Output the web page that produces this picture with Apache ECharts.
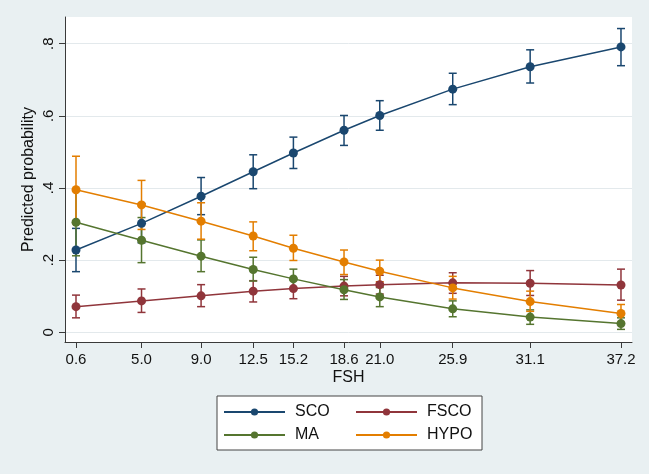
<!DOCTYPE html>
<html><head><meta charset="utf-8">
<script src="https://cdn.jsdelivr.net/npm/echarts@6/dist/echarts.min.js"></script>
<style>html,body{margin:0;padding:0;background:#ffffff;}#c{width:649px;height:474px;}</style>
</head><body><div id="c"></div>
<script>
var fsh = [0.6, 5.0, 9.0, 12.5, 15.2, 18.6, 21.0, 25.9, 31.1, 37.2];
var yTicks = [0, 0.2, 0.4, 0.6, 0.8];
var seriesNames = ['SCO', 'FSCO', 'MA', 'HYPO'];
var sco   = [0.228, 0.302, 0.377, 0.445, 0.497, 0.560, 0.601, 0.674, 0.736, 0.791];
var scoLo = [0.168, 0.248, 0.326, 0.398, 0.454, 0.518, 0.560, 0.631, 0.691, 0.739];
var scoHi = [0.288, 0.357, 0.429, 0.492, 0.541, 0.601, 0.642, 0.718, 0.783, 0.842];
var fsco   = [0.071, 0.087, 0.101, 0.114, 0.121, 0.128, 0.132, 0.137, 0.136, 0.131];
var fscoLo = [0.040, 0.055, 0.071, 0.084, 0.093, 0.101, 0.106, 0.108, 0.102, 0.089];
var fscoHi = [0.103, 0.120, 0.132, 0.143, 0.148, 0.155, 0.158, 0.165, 0.171, 0.175];
var ma   = [0.305, 0.255, 0.211, 0.174, 0.148, 0.118, 0.098, 0.065, 0.042, 0.024];
var maLo = [0.212, 0.193, 0.168, 0.142, 0.120, 0.091, 0.071, 0.043, 0.022, 0.008];
var maHi = [0.398, 0.318, 0.256, 0.208, 0.175, 0.146, 0.124, 0.087, 0.062, 0.040];
var hypo   = [0.395, 0.353, 0.308, 0.267, 0.233, 0.195, 0.169, 0.123, 0.085, 0.052];
var hypoLo = [0.301, 0.285, 0.258, 0.226, 0.199, 0.160, 0.140, 0.092, 0.058, 0.028];
var hypoHi = [0.488, 0.421, 0.359, 0.306, 0.269, 0.228, 0.200, 0.155, 0.114, 0.077];

var colors = ['#1a476f', '#90353b', '#55752f', '#e37e00'];
var vals = [sco, fsco, ma, hypo];
var los = [scoLo, fscoLo, maLo, hypoLo];
var his = [scoHi, fscoHi, maHi, hypoHi];
var FONT = '"Liberation Sans", Arial, sans-serif';

var chart = echarts.init(document.getElementById('c'), null, {renderer: 'canvas'});
var series = [];
for (var s = 0; s < 4; s++) {
  (function (s) {
    var errData = fsh.map(function (x, i) { return [x, los[s][i], his[s][i]]; });
    series.push({
      type: 'custom',
      name: seriesNames[s] + ' CI',
      silent: true,
      z: 2,
      data: errData,
      encode: {x: 0, y: [1, 2]},
      renderItem: function (params, api) {
        var x = api.value(0);
        var lo = api.coord([x, api.value(1)]);
        var hi = api.coord([x, api.value(2)]);
        var hw = 4;
        var st = {stroke: colors[s], lineWidth: 1.5, fill: null};
        return {
          type: 'group',
          children: [
            {type: 'line', shape: {x1: lo[0], y1: lo[1], x2: hi[0], y2: hi[1]}, style: st},
            {type: 'line', shape: {x1: lo[0] - hw, y1: lo[1], x2: lo[0] + hw, y2: lo[1]}, style: st},
            {type: 'line', shape: {x1: hi[0] - hw, y1: hi[1], x2: hi[0] + hw, y2: hi[1]}, style: st}
          ]
        };
      }
    });
  })(s);
}
for (var s2 = 0; s2 < 4; s2++) {
  series.push({
    type: 'line',
    name: seriesNames[s2],
    z: 3,
    data: fsh.map(function (x, i) { return [x, vals[s2][i]]; }),
    symbol: 'circle',
    symbolSize: 9,
    showSymbol: true,
    color: colors[s2],
    itemStyle: {color: colors[s2]},
    lineStyle: {color: colors[s2], width: 1.5},
    emphasis: {disabled: true}
  });
}

var option = {
  animation: false,
  backgroundColor: '#e9f0f2',
  textStyle: {fontFamily: FONT},
  grid: {left: 65, right: 17, top: 17, bottom: 132, show: true, backgroundColor: '#ffffff', borderWidth: 0, containLabel: false, outerBoundsMode: 'none'},
  legend: {
    data: seriesNames,
    left: 217, top: 396, width: 262,
    orient: 'horizontal',
    backgroundColor: '#ffffff', borderColor: '#444444', borderWidth: 1,
    padding: [7, 0, 6, 6],
    itemWidth: 61, itemHeight: 9, itemGap: 5,
    selectedMode: false,
    textStyle: {fontFamily: FONT, fontSize: 16, color: '#111111', width: 55, lineHeight: 18, padding: [0, 0, 0, 5], overflow: 'none'}
  },
  xAxis: {
    type: 'value', min: -0.139, max: 37.94,
    name: 'FSH', nameLocation: 'middle', nameGap: 28, nameMoveOverlap: false,
    nameTextStyle: {fontFamily: FONT, fontSize: 16, color: '#111111'},
    axisLine: {show: true, onZero: false, lineStyle: {color: '#3a3a3a', width: 1}},
    axisTick: {show: true, length: 6, customValues: fsh, lineStyle: {color: '#3a3a3a'}},
    axisLabel: {customValues: fsh, margin: 10, fontFamily: FONT, fontSize: 15, color: '#111111',
      formatter: function (v) { return v.toFixed(1); }},
    splitLine: {show: false}
  },
  yAxis: {
    type: 'value', min: -0.027, max: 0.874,
    name: 'Predicted probability', nameLocation: 'middle', nameGap: 28, nameMoveOverlap: false,
    nameTextStyle: {fontFamily: FONT, fontSize: 16, color: '#111111'},
    axisLine: {show: true, onZero: false, lineStyle: {color: '#3a3a3a', width: 1}},
    axisTick: {show: true, length: 6, customValues: yTicks, lineStyle: {color: '#3a3a3a'}},
    axisLabel: {customValues: yTicks, margin: 9, rotate: 90, fontFamily: FONT, fontSize: 15, color: '#111111',
      formatter: function (v) { return v === 0 ? '0' : ('' + v.toFixed(1)).replace(/^0/, ''); }},
    splitLine: {show: true, customValues: yTicks, lineStyle: {color: '#e3e9ec', width: 1}}
  },
  series: series
};
chart.setOption(option);
</script></body></html>
